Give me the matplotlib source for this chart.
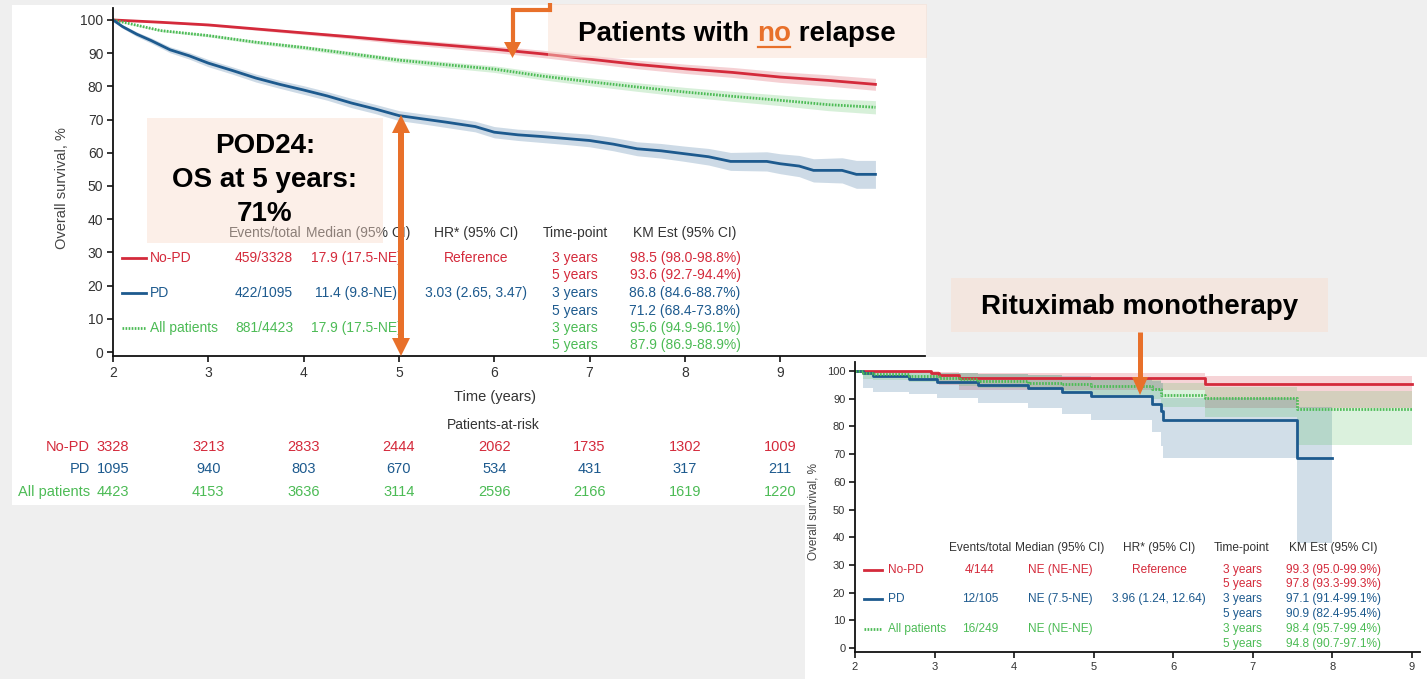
"""
Sobrevida global (OS) por POD24 — painel principal + recorte de rituximabe.

Recrio a figura composta: curva de Kaplan-Meier geral com tabela de eventos
e pacientes em risco, e um segundo painel (rituximabe em monoterapia) no
canto inferior direito, com as caixas de destaque em laranja.
"""

import matplotlib
matplotlib.use("Agg")  # sem tela
import matplotlib.pyplot as plt
from matplotlib.lines import Line2D
from matplotlib.patches import Rectangle, Polygon
from matplotlib.transforms import blended_transform_factory

W, H = 1427, 679

COR_NOPD = "#d42a3b"
COR_PD = "#1d5a8e"
COR_TODOS = "#4cbb55"
LARANJA = "#e8702a"
PESSEGO = "#f9dccd"
TEXTO = "#333333"
FUNDO = "#efefef"

FONTE = ["Liberation Sans Narrow", "Liberation Sans", "DejaVu Sans"]
FONTE_NEGRITO = ["Liberation Sans", "DejaVu Sans"]
plt.rcParams["font.family"] = FONTE

# ---------------- painel principal: todos os tratamentos ----------------
anos = [2, 2.5, 3, 3.5, 4, 4.5, 5, 5.5, 6, 6.5, 7, 7.5, 8, 8.5, 9, 9.5, 10]
nopd_os = [100, 99.3, 98.5, 97.3, 96.1, 94.9, 93.6, 92.4, 91.2, 89.8, 88.2,
           86.6, 85.3, 84.2, 82.8, 81.8, 80.6]
nopd_ic = [0, 0.2, 0.3, 0.4, 0.5, 0.6, 0.8, 0.9, 1.0, 1.1, 1.2, 1.3, 1.4,
           1.5, 1.6, 1.7, 1.8]
todos_os = [100, 96.8, 95.3, 93.3, 91.7, 89.8, 87.9, 86.5, 85.2, 83.1, 81.4,
            79.8, 78.3, 77.0, 75.8, 74.5, 73.7]
todos_ic = [0, 0.3, 0.4, 0.5, 0.6, 0.7, 0.8, 0.9, 1.0, 1.1, 1.2, 1.3, 1.4,
            1.5, 1.6, 1.8, 2.0]

anos_pd = [2, 2.1, 2.25, 2.4, 2.6, 2.8, 3, 3.25, 3.5, 3.75, 4, 4.25, 4.5,
           4.75, 5, 5.25, 5.5, 5.8, 6, 6.25, 6.5, 6.75, 7, 7.25, 7.5, 7.75,
           8, 8.25, 8.48, 8.86, 9, 9.2, 9.35, 9.65, 9.8, 10]
pd_os = [100, 98.0, 95.7, 93.8, 91.0, 89.2, 87.0, 84.8, 82.5, 80.6, 78.9,
         77.1, 75.0, 73.2, 71.2, 70.2, 69.2, 67.9, 66.2, 65.4, 64.9, 64.3,
         63.7, 62.6, 61.2, 60.6, 59.7, 58.8, 57.4, 57.4, 56.7, 56.0, 54.7,
         54.7, 53.5, 53.5]
pd_ic = [0, 0.5, 0.7, 0.8, 0.9, 1.0, 1.1, 1.1, 1.2, 1.2, 1.3, 1.3, 1.4, 1.4,
         1.5, 1.5, 1.6, 1.6, 1.7, 1.7, 1.8, 1.8, 1.9, 2.0, 2.1, 2.2, 2.3, 2.5,
         2.7, 2.9, 3.0, 3.2, 3.5, 3.8, 4.2, 4.2]

anos_risco = [2, 3, 4, 5, 6, 7, 8, 9]
risco_nopd = [3328, 3213, 2833, 2444, 2062, 1735, 1302, 1009]
risco_pd = [1095, 940, 803, 670, 534, 431, 317, 211]
risco_todos = [4423, 4153, 3636, 3114, 2596, 2166, 1619, 1220]

grupos = ["No-PD", "PD", "All patients"]
eventos_geral = ["459/3328", "422/1095", "881/4423"]
mediana_geral = ["17.9 (17.5-NE)", "11.4 (9.8-NE)", "17.9 (17.5-NE)"]
hr_geral = ["Reference", "3.03 (2.65, 3.47)", ""]
km_geral = [["98.5 (98.0-98.8%)", "93.6 (92.7-94.4%)"],
            ["86.8 (84.6-88.7%)", "71.2 (68.4-73.8%)"],
            ["95.6 (94.9-96.1%)", "87.9 (86.9-88.9%)"]]

# ---------------- recorte: rituximabe em monoterapia ----------------
rit_anos_nopd = [2, 2.96, 3.05, 3.31, 6.40, 9.0]
rit_nopd_os = [100, 99.2, 98.4, 97.6, 95.3, 95.3]
rit_nopd_inf = [100, 97.0, 95.0, 93.3, 86.5, 86.5]
rit_nopd_sup = [100, 99.9, 99.6, 99.3, 98.3, 98.3]

rit_anos_pd = [2, 2.10, 2.23, 2.68, 3.03, 3.55, 4.18, 4.60, 4.97, 5.73, 5.84,
               5.87, 7.55, 8.0]
rit_pd_os = [100, 99.3, 98.3, 97.1, 96.2, 95.0, 93.8, 92.4, 90.8, 88.2, 85.6,
             82.4, 68.7, 68.7]
rit_pd_inf = [100, 93.9, 92.6, 91.7, 90.2, 88.4, 86.5, 84.6, 82.3, 78.0, 73.0,
              68.7, 38.0, 38.0]
rit_pd_sup = [100, 99.9, 99.8, 99.6, 99.3, 99.0, 98.6, 98.1, 97.4, 96.5, 95.5,
              90.2, 87.1, 87.1]

rit_anos_todos = [2, 2.10, 2.23, 2.68, 3.05, 3.31, 3.55, 4.18, 4.60, 4.97,
                  5.73, 5.85, 6.40, 7.55, 9.0]
rit_todos_os = [100, 99.3, 98.9, 98.3, 97.6, 97.0, 96.4, 95.8, 95.2, 94.5,
                93.5, 91.5, 90.4, 86.3, 86.3]
rit_todos_inf = [100, 97.0, 96.6, 96.0, 95.2, 94.6, 93.9, 93.0, 92.2, 91.2,
                 89.8, 87.0, 83.5, 73.3, 73.3]
rit_todos_sup = [100, 99.9, 99.8, 99.6, 99.3, 99.1, 98.8, 98.4, 98.0, 97.6,
                 96.9, 95.5, 94.2, 92.9, 92.9]

eventos_rit = ["4/144", "12/105", "16/249"]
mediana_rit = ["NE (NE-NE)", "NE (7.5-NE)", "NE (NE-NE)"]
hr_rit = ["Reference", "3.96 (1.24, 12.64)", ""]
km_rit = [["99.3 (95.0-99.9%)", "97.8 (93.3-99.3%)"],
          ["97.1 (91.4-99.1%)", "90.9 (82.4-95.4%)"],
          ["98.4 (95.7-99.4%)", "94.8 (90.7-97.1%)"]]

CORES = [COR_NOPD, COR_PD, COR_TODOS]
ESTILOS = ["-", "-", (0, (0.6, 0.5))]


def caixa_px(esq, topo, dir_, base):
    """Retângulo em pixels (origem no topo) -> fração da figura."""
    return [esq / W, 1 - base / H, (dir_ - esq) / W, (base - topo) / H]


def estilo_eixo(ax, tam, cor_tick):
    for lado in ("top", "right"):
        ax.spines[lado].set_visible(False)
    for lado in ("left", "bottom"):
        ax.spines[lado].set_linewidth(1.3)
        ax.spines[lado].set_color("#111111")
    ax.tick_params(length=4, width=1.1, labelsize=tam, labelcolor=cor_tick,
                   pad=3)
    ax.set_facecolor("none")


def seta_vertical(ov, x, y_ini, y_ponta, larg_haste, larg_cab, alt_cab):
    sentido = 1 if y_ponta > y_ini else -1
    base = y_ponta - sentido * alt_cab
    ov.add_line(Line2D([x, x], [y_ini, base + sentido * 1], color=LARANJA,
                       lw=larg_haste * 0.72, solid_capstyle="butt", zorder=7))
    ov.add_patch(Polygon([(x - larg_cab / 2, base), (x + larg_cab / 2, base),
                          (x, y_ponta)], closed=True, color=LARANJA,
                         lw=0, zorder=7))


def tabela(ov, cfg, eventos, medianas, hrs, kms):
    tam = cfg["tam"]
    y0 = cfg["y_cab"]
    ov.text(cfg["x_ev_cab"], y0, "Events/total", ha="right", va="center",
            fontsize=tam, color=TEXTO, zorder=3)
    ov.text(cfg["x_ev_cab"] + 4, y0, "Median (95% CI)", ha="left",
            va="center", fontsize=tam, color=TEXTO, zorder=3)
    ov.text(cfg["x_hr"], y0, "HR* (95% CI)", ha="center", va="center",
            fontsize=tam, color=TEXTO, zorder=3)
    ov.text(cfg["x_tp"], y0, "Time-point", ha="center", va="center",
            fontsize=tam, color=TEXTO, zorder=3)
    ov.text(cfg["x_km"], y0, "KM Est (95% CI)", ha="center", va="center",
            fontsize=tam, color=TEXTO, zorder=3)
    for i, g in enumerate(grupos):
        y = cfg["y_linhas"][i]
        cor = CORES[i]
        ov.add_line(Line2D(cfg["x_leg"], [y, y], color=cor, lw=2,
                           linestyle=ESTILOS[i], zorder=3))
        ov.text(cfg["x_rot"], y, g, ha="left", va="center", fontsize=tam,
                color=cor, zorder=3)
        ov.text(cfg["x_ev"], y, eventos[i], ha="center", va="center",
                fontsize=tam, color=cor, zorder=3)
        ov.text(cfg["x_med"], y, medianas[i], ha="center", va="center",
                fontsize=tam, color=cor, zorder=3)
        ov.text(cfg["x_hr"], y, hrs[i], ha="center", va="center",
                fontsize=tam, color=cor, zorder=3)
        for j, rot in enumerate(["3 years", "5 years"]):
            yy = y + j * cfg["dy"]
            ov.text(cfg["x_tp"], yy, rot, ha="center", va="center",
                    fontsize=tam, color=cor, zorder=3)
            ov.text(cfg["x_km"], yy, kms[i][j], ha="center", va="center",
                    fontsize=tam, color=cor, zorder=3)


fig = plt.figure(figsize=(W / 100, H / 100), dpi=100, facecolor=FUNDO)

# fundos brancos dos dois painéis
fundo = fig.add_axes([0, 0, 1, 1], zorder=-5)
fundo.set_xlim(0, W)
fundo.set_ylim(H, 0)
fundo.axis("off")
fundo.add_patch(Rectangle((12, 5), 914, 500, color="white", lw=0))
fundo.add_patch(Rectangle((805, 357), 622, 322, color="white", lw=0))

# ---- eixo principal ----
ax = fig.add_axes(caixa_px(113, 8, 925, 356), zorder=1)
estilo_eixo(ax, 10, TEXTO)
ax.set_xlim(2, 10.52)
ax.set_ylim(-1.2, 103.6)
ax.set_xticks(anos_risco)
ax.set_yticks(range(0, 101, 10))

for xs, ys, ic, cor, est in [(anos, nopd_os, nopd_ic, COR_NOPD, "-"),
                             (anos, todos_os, todos_ic, COR_TODOS, ESTILOS[2]),
                             (anos_pd, pd_os, pd_ic, COR_PD, "-")]:
    inf = [v - e for v, e in zip(ys, ic)]
    sup = [v + e for v, e in zip(ys, ic)]
    ax.fill_between(xs, inf, sup, color=cor, alpha=0.22, lw=0)
    ax.plot(xs, ys, color=cor, lw=2, linestyle=est)

# ---- recorte rituximabe ----
ax2 = fig.add_axes(caixa_px(855, 362, 1420, 652), zorder=2)
estilo_eixo(ax2, 8, "#333333")
ax2.set_xlim(2, 9.1)
ax2.set_ylim(-1.44, 103.25)
ax2.set_xticks(anos_risco)
ax2.set_yticks(range(0, 101, 10))

for xs, ys, inf, sup, cor, est in [
        (rit_anos_nopd, rit_nopd_os, rit_nopd_inf, rit_nopd_sup, COR_NOPD, "-"),
        (rit_anos_pd, rit_pd_os, rit_pd_inf, rit_pd_sup, COR_PD, "-"),
        (rit_anos_todos, rit_todos_os, rit_todos_inf, rit_todos_sup,
         COR_TODOS, ESTILOS[2])]:
    ax2.fill_between(xs, inf, sup, step="post", color=cor, alpha=0.2, lw=0)
for xs, ys, cor, est in [(rit_anos_nopd, rit_nopd_os, COR_NOPD, "-"),
                         (rit_anos_pd, rit_pd_os, COR_PD, "-"),
                         (rit_anos_todos, rit_todos_os, COR_TODOS, ESTILOS[2])]:
    ax2.step(xs, ys, where="post", color=cor, lw=2, linestyle=est)

# ---- camada de anotações em pixels ----
ov = fig.add_axes([0, 0, 1, 1], zorder=10)
ov.set_xlim(0, W)
ov.set_ylim(H, 0)
ov.axis("off")
ov.set_facecolor("none")

ov.text(62, 188, "Overall survival, %", rotation=90, ha="center",
        va="center", fontsize=10.5, color="#444444")
ov.text(495, 397, "Time (years)", ha="center", va="center", fontsize=10.5,
        color=TEXTO)
ov.text(493, 425, "Patients-at-risk", ha="center", va="center", fontsize=10,
        color=TEXTO)
ov.text(814, 512, "Overall survival, %", rotation=90, ha="center",
        va="center", fontsize=8.5, color="#444444")

# pacientes em risco: x nos anos do eixo, y em pixels
trans_risco = blended_transform_factory(ax.transData, ov.transData)
for g, serie, y, cor in zip(grupos, [risco_nopd, risco_pd, risco_todos],
                            [447, 469, 492], CORES):
    ov.text(90, y, g, ha="right", va="center", fontsize=10.5, color=cor)
    for ano, n in zip(anos_risco, serie):
        ov.text(ano, y, str(n), ha="center", va="center", fontsize=10.5,
                color=cor, transform=trans_risco)

tabela(ov, dict(tam=10, y_cab=233, y_linhas=[258, 293, 328], dy=17.5,
                x_leg=[122, 146], x_rot=150, x_ev_cab=302, x_ev=264,
                x_med=356, x_hr=476, x_tp=575, x_km=685),
       eventos_geral, mediana_geral, hr_geral, km_geral)
tabela(ov, dict(tam=8.6, y_cab=548, y_linhas=[570, 599, 629], dy=14.5,
                x_leg=[864, 882], x_rot=888, x_ev_cab=1011, x_ev=980,
                x_med=1060, x_hr=1159, x_tp=1242, x_km=1333),
       eventos_rit, mediana_rit, hr_rit, km_rit)

# caixas de destaque
ov.add_patch(Rectangle((147, 118), 236, 125, color=PESSEGO, alpha=0.45,
                       lw=0, zorder=5))
ov.add_patch(Rectangle((548, 4), 379, 54, color=PESSEGO, alpha=0.45, lw=0,
                       zorder=5))
ov.add_patch(Rectangle((951, 278), 377, 54, color=PESSEGO, alpha=0.45, lw=0,
                       zorder=5))

for txt, yb in [("POD24:", 153), ("OS at 5 years:", 187), ("71%", 221)]:
    ov.text(265, yb, txt, ha="center", va="baseline", fontsize=20,
            fontweight="bold", family=FONTE_NEGRITO, color="black", zorder=6)
ov.text(1140, 314, "Rituximab monotherapy", ha="center", va="baseline",
        fontsize=20, fontweight="bold", family=FONTE_NEGRITO, color="black",
        zorder=6)

# "Patients with no relapse" com o "no" em laranja sublinhado
pedacos = [("Patients with ", "black"), ("no", LARANJA), (" relapse", "black")]
textos = [ov.text(0, 41, p, ha="left", va="baseline", fontsize=20,
                  fontweight="bold", family=FONTE_NEGRITO, color=c, zorder=6)
          for p, c in pedacos]
fig.canvas.draw()
rend = fig.canvas.get_renderer()
larguras = [t.get_window_extent(rend).width for t in textos]
x = 737 - sum(larguras) / 2
for t, lg in zip(textos, larguras):
    t.set_x(x)
    x += lg
x_no = 737 - sum(larguras) / 2 + larguras[0]
ov.add_line(Line2D([x_no + 1, x_no + larguras[1] - 1], [46.5, 46.5],
                   color=LARANJA, lw=1.6, zorder=6))

# setas
ov.add_line(Line2D([550, 550, 512.5, 512.5], [3, 10, 10, 43], color=LARANJA,
                   lw=3, solid_joinstyle="miter", solid_capstyle="butt",
                   zorder=7))
seta_vertical(ov, 512.5, 40, 58, 4, 17, 16)
seta_vertical(ov, 401, 236, 115, 6, 18, 18)
seta_vertical(ov, 401, 236, 356, 6, 18, 18)
seta_vertical(ov, 1140, 332, 395, 5, 16, 18)

fig.savefig("out.png", dpi=100, facecolor=FUNDO)
